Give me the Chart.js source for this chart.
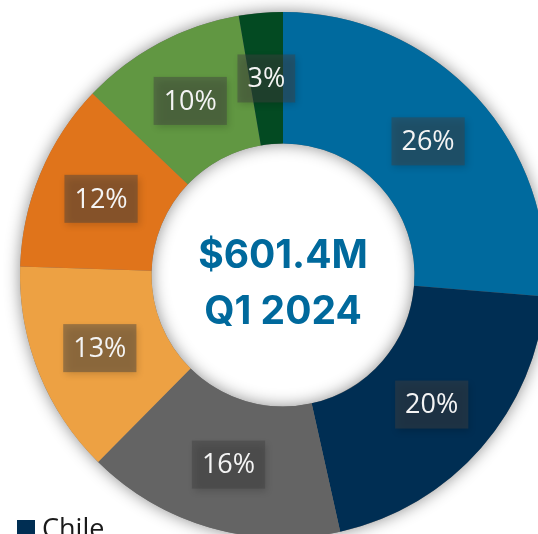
<!DOCTYPE html>
<html>
<head>
<meta charset="utf-8">
<script src="https://cdn.jsdelivr.net/npm/chart.js@4.4.1/dist/chart.umd.min.js"></script>
<style>
  html, body { margin: 0; padding: 0; background: #fff; overflow: hidden; width: 538px; height: 534px; }
  #wrap { position: absolute; left: 0; top: 0; width: 600px; height: 600px; }
</style>
</head>
<body>
<div id="wrap"><canvas id="chart" width="600" height="600"></canvas></div>
<script>
// segments clockwise from 12 o'clock (only "Chile" is readable in the legend)
const segments = ['Segment 1', 'Chile', 'Segment 3', 'Segment 4', 'Segment 5', 'Segment 6', 'Segment 7'];
const revenue = [158.2, 121.5, 95.6, 78.8, 69.8, 61.3, 16.2]; // $M
const segmentColors = ['#006a9e', '#002e53', '#646464', '#eda143', '#e0741b', '#619742', '#034a22'];
const totalLabel = '$601.4M';
const periodLabel = 'Q1 2024';
const legendLabels = ['Chile'];

const ctx = document.getElementById('chart').getContext('2d');
const total = revenue.reduce((a, b) => a + b, 0);

// soft shadow behind the ring (also shades the hole)
const ringShadow = {
  id: 'ringShadow',
  beforeDatasetsDraw(chart) {
    const arc = chart.getDatasetMeta(0).data[0];
    const { x, y, outerRadius, innerRadius } = arc.getProps(['x', 'y', 'outerRadius', 'innerRadius'], true);
    const c = chart.ctx;
    c.save();
    c.shadowColor = 'rgba(0,0,0,0.45)';
    c.shadowBlur = 16;
    c.fillStyle = '#777';
    c.beginPath();
    c.arc(x, y, outerRadius, 0, Math.PI * 2);
    c.arc(x, y, innerRadius, 0, Math.PI * 2, true);
    c.fill();
    c.restore();
  }
};

// percentage labels in dark boxes
const pctLabels = {
  id: 'pctLabels',
  afterDatasetsDraw(chart) {
    const c = chart.ctx;
    c.save();
    c.font = '27px "Open Sans"';
    c.textAlign = 'center';
    c.textBaseline = 'middle';
    chart.getDatasetMeta(0).data.forEach((arc, i) => {
      const p = arc.getCenterPoint();
      const txt = Math.round(revenue[i] / total * 100) + '%';
      const w = c.measureText(txt).width + 20;
      const h = 48;
      c.shadowColor = 'rgba(0,0,0,0.35)';
      c.shadowBlur = 7;
      c.shadowOffsetX = 2;
      c.shadowOffsetY = 3;
      c.fillStyle = 'rgba(64,64,64,0.45)';
      c.fillRect(p.x - w / 2, p.y - h / 2, w, h);
      c.shadowColor = 'transparent';
      c.fillStyle = '#f4f4f4';
      c.fillText(txt, p.x, p.y + 1);
    });
    c.restore();
  }
};

// centre text + legend fragment
const extras = {
  id: 'extras',
  afterDraw(chart) {
    const c = chart.ctx;
    const arc = chart.getDatasetMeta(0).data[0];
    c.save();
    c.fillStyle = '#00699c';
    c.textAlign = 'center';
    c.textBaseline = 'alphabetic';
    c.font = 'bold 39px Inter';
    c.fillText(totalLabel, arc.x, arc.y - 7);
    c.fillText(periodLabel, arc.x, arc.y + 49);

    c.textAlign = 'left';
    c.font = '27px "Open Sans"';
    legendLabels.forEach((lab) => {
      c.fillStyle = segmentColors[segments.indexOf(lab)];
      c.fillRect(17, 520, 18, 18);
      c.fillStyle = '#1a1a1a';
      c.fillText(lab, 42, 538);
    });
    c.restore();
  }
};

new Chart(ctx, {
  type: 'doughnut',
  data: {
    labels: segments,
    datasets: [{
      data: revenue,
      backgroundColor: segmentColors,
      borderWidth: 0
    }]
  },
  options: {
    responsive: false,
    animation: false,
    cutout: '50%',
    layout: { padding: { left: 20, top: 12, right: 54, bottom: 62 } },
    plugins: {
      legend: { display: false },
      tooltip: { enabled: false }
    }
  },
  plugins: [ringShadow, pctLabels, extras]
});
</script>
</body>
</html>
